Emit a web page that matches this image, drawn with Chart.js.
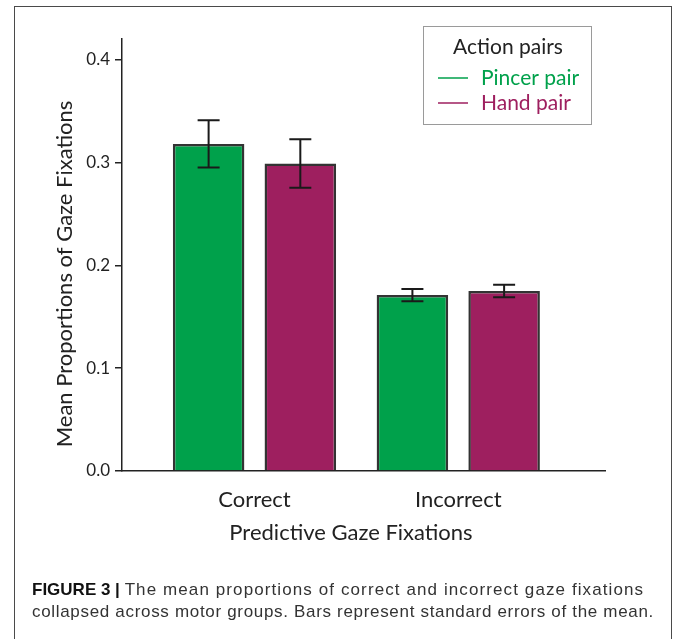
<!DOCTYPE html>
<html>
<head>
<meta charset="utf-8">
<script src="https://cdn.jsdelivr.net/npm/chart.js@4.4.0/dist/chart.umd.min.js"></script>
<style>
  html, body { margin: 0; padding: 0; background: #fff; }
  body { width: 673px; height: 639px; position: relative; overflow: hidden; }
  #frame { position: absolute; left: 14px; top: 6px; width: 656px; height: 700px; border: 1px solid #4a4a4a; border-bottom: none; }
  #myChart { position: absolute; left: 0; top: 0; }
  #caption { position: absolute; left: 32px; top: 579px; width: 636px; font-family: "Liberation Sans", Arial, sans-serif; font-size: 17px; line-height: 22px; color: #333; white-space: nowrap; }
  #caption b { color: #111; letter-spacing: 0; }
  #caption .l1 { letter-spacing: 1.1px; }
  #caption .l2 { letter-spacing: 0.68px; }
</style>
</head>
<body>
<div id="frame"></div>
<canvas id="myChart" width="673" height="639"></canvas>
<div id="caption"><b>FIGURE 3 |</b> <span class="l1">The mean proportions of correct and incorrect gaze fixations</span><br><span class="l2">collapsed across motor groups. Bars represent standard errors of the mean.</span></div>
<script>
// datos
const categories = ['Correct', 'Incorrect'];
const seriesNames = ['Pincer pair', 'Hand pair'];
const pincerMeans = [0.318, 0.171];
const pincerErrors = [0.023, 0.006];
const handMeans = [0.299, 0.175];
const handErrors = [0.0235, 0.006];
const yTicks = [0, 0.1, 0.2, 0.3, 0.4];
const seriesColors = ['#00a14b', '#9e1f5f'];

const legendTitle = 'Action pairs';
const xTitle = 'Predictive Gaze Fixations';
const yTitle = 'Mean Proportions of Gaze Fixations';
const fontFamily = 'Lato, "Open Sans", sans-serif';

// barras de error (error estandar)
const errorBars = {
    id: 'errorBars',
    afterDatasetsDraw(chart) {
        const ctx = chart.ctx;
        const yScale = chart.scales.y;
        ctx.save();
        ctx.strokeStyle = '#1a1a1a';
        ctx.lineWidth = 2;
        chart.data.datasets.forEach((ds, d) => {
            chart.getDatasetMeta(d).data.forEach((bar, i) => {
                const v = ds.data[i].y;
                const top = yScale.getPixelForValue(v + ds.errors[i]);
                const bottom = yScale.getPixelForValue(v - ds.errors[i]);
                ctx.beginPath();
                ctx.moveTo(bar.x, top); ctx.lineTo(bar.x, bottom);
                ctx.moveTo(bar.x - 11, top); ctx.lineTo(bar.x + 11, top);
                ctx.moveTo(bar.x - 11, bottom); ctx.lineTo(bar.x + 11, bottom);
                ctx.stroke();
            });
        });
        ctx.restore();
    }
};

// titulos de ejes y leyenda con recuadro
const extras = {
    id: 'extras',
    afterDraw(chart) {
        const ctx = chart.ctx;
        ctx.save();
        ctx.fillStyle = '#222';
        ctx.font = '22px ' + fontFamily;
        ctx.textAlign = 'center';
        ctx.textBaseline = 'middle';
        ctx.fillText(xTitle, 351, 533);
        ctx.save();
        ctx.translate(65, 274);
        ctx.rotate(-Math.PI / 2);
        ctx.fillText(yTitle, 0, 0);
        ctx.restore();

        // leyenda
        ctx.fillStyle = '#fff';
        ctx.fillRect(423, 26, 168, 98);
        ctx.strokeStyle = '#9a9a9a';
        ctx.lineWidth = 1;
        ctx.strokeRect(423.5, 26.5, 168, 98);
        ctx.fillStyle = '#222';
        ctx.font = '21px ' + fontFamily;
        ctx.fillText(legendTitle, 508, 47);
        ctx.textAlign = 'left';
        seriesNames.forEach((name, i) => {
            const y = 78 + i * 25;
            ctx.strokeStyle = seriesColors[i];
            ctx.lineWidth = 1.5;
            ctx.beginPath();
            ctx.moveTo(438, y); ctx.lineTo(468, y);
            ctx.stroke();
            ctx.fillStyle = seriesColors[i];
            ctx.fillText(name, 481, y);
        });
        ctx.restore();
    }
};

let ctx = document.getElementById('myChart').getContext('2d');

let myChart = new Chart(ctx, {
    type: 'bar',
    data: {
        datasets: [
            {
                label: seriesNames[0],
                data: pincerMeans.map((v, i) => ({ x: i + 1, y: v })),
                errors: pincerErrors,
                backgroundColor: seriesColors[0],
                borderColor: '#333',
                borderWidth: 2.5
            },
            {
                label: seriesNames[1],
                data: handMeans.map((v, i) => ({ x: i + 1, y: v })),
                errors: handErrors,
                backgroundColor: seriesColors[1],
                borderColor: '#333',
                borderWidth: 2.5
            }
        ]
    },
    options: {
        responsive: false,
        animation: false,
        layout: { padding: { left: 0, top: 39, right: 68, bottom: 0 } },
        datasets: { bar: { categoryPercentage: 0.9, barPercentage: 0.78 } },
        plugins: {
            legend: { display: false },
            tooltip: { enabled: false }
        },
        scales: {
            x: {
                type: 'linear',
                offset: false,
                min: 0.35,
                max: 2.72,
                grid: { display: false, drawTicks: false },
                border: { color: '#222', width: 1.5 },
                afterBuildTicks: (s) => { s.ticks = categories.map((c, i) => ({ value: i + 1 })); },
                ticks: {
                    autoSkip: false,
                    maxRotation: 0,
                    padding: 16,
                    color: '#222',
                    font: { family: fontFamily, size: 22 },
                    callback: (v) => categories[v - 1]
                },
                afterFit: (s) => { s.height = 168; }
            },
            y: {
                min: 0,
                max: 0.42,
                afterBuildTicks: (s) => { s.ticks = yTicks.map((v) => ({ value: v })); },
                grid: { drawOnChartArea: false, drawTicks: true, tickLength: 7, color: '#222', lineWidth: 1.5 },
                border: { color: '#222', width: 1.5 },
                ticks: {
                    padding: 5,
                    color: '#222',
                    font: { family: fontFamily, size: 17 },
                    callback: (v) => v.toFixed(1)
                },
                afterFit: (s) => { s.width = 122; }
            }
        }
    },
    plugins: [errorBars, extras]
});
</script>
</body>
</html>
